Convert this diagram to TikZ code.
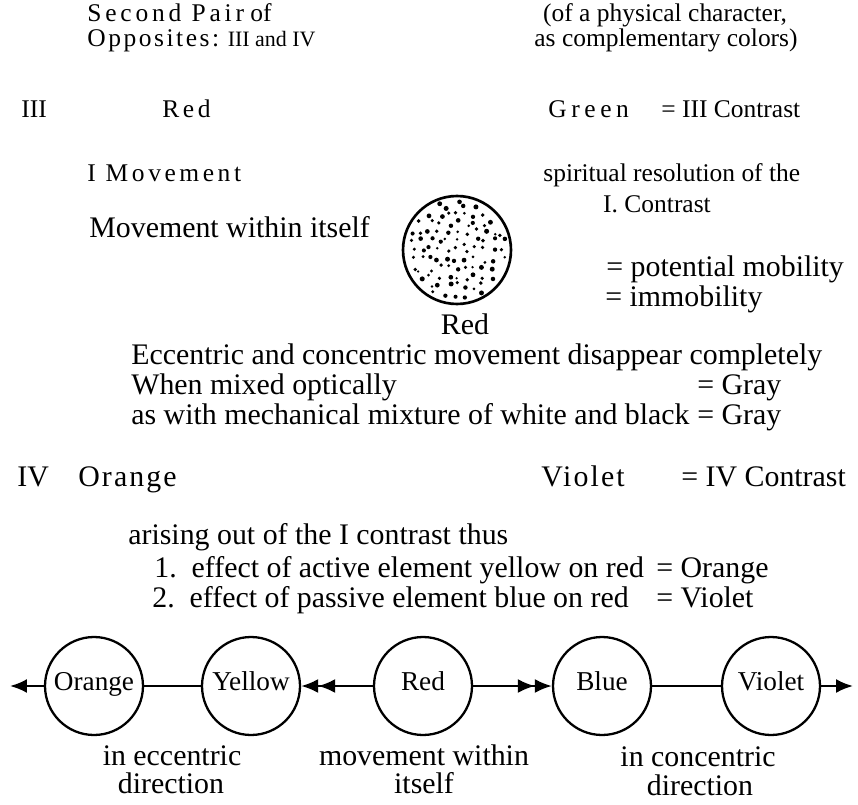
\documentclass[tikz,border=0pt]{standalone}
\usepackage{fontspec}
\setmainfont{Liberation Serif}
\usetikzlibrary{arrows.meta}
\newcommand{\spaced}[2][16]{{\addfontfeature{LetterSpace=#1}#2}}

\begin{document}
\begin{tikzpicture}[x=0.02cm, y=-0.02cm,
    font=\fontsize{17}{20}\selectfont,
    every node/.style={inner sep=0pt, text height=1.5ex, text depth=.3ex},
    txt/.style={anchor=west},
    head/.style={font=\fontsize{14.5}{17}\selectfont},
    colour/.style={circle, draw, line width=1.3pt, minimum size=1.96cm,
      font=\fontsize{15.5}{18}\selectfont},
    link/.style={line width=1.3pt},
    tip/.style={link, -{Latex[length=3.4mm,width=2.8mm]}},
    twotip/.style={link, -{Latex[length=3.4mm,width=2.8mm]Latex[length=3.4mm,width=2.8mm]}}]
  \useasboundingbox (0,0) rectangle (858,804);
  % heading
  \node[txt, head] (title1) at (87,17) {\spaced[15]{Second Pair} of};
  \node[txt, head] (title2) at (87,42) {\spaced[10]{Opposites:} {\fontsize{12.5}{15}\selectfont III and IV}};
  \node[head] (phys1) at (665,17) {(of a physical character,};
  \node[head] (phys2) at (666,42) {as complementary colors)};
  % third contrast
  \node[txt, head] (num3) at (21,113) {III};
  \node[txt, head] (red3) at (162,113) {\spaced[14]{Red}};
  \node[txt, head] (green3) at (548,113) {\spaced[18]{Green}};
  \node[txt, head] (con3) at (661,113) {= III Contrast};
  \node[txt, head] (move1) at (87,177) {\spaced[14]{I Movement}};
  \node[txt, head] (spirit) at (543,177) {spiritual resolution of the};
  \node[head] (icon) at (657,208) {I. Contrast};
  \node[txt] (within) at (89,233) {Movement within itself};
  \node[circle, draw, line width=1.5pt, minimum size=2.16cm] (redball) at (457,250) {};
  % stipple: jittered grid inside the disc
  \pgfmathsetseed{5}
  \foreach \gx in {-45,-36,...,45} {
    \foreach \gy in {-45,-36,...,45} {
      \pgfmathsetmacro{\px}{\gx+7*(rnd-0.5)}
      \pgfmathsetmacro{\py}{\gy+7*(rnd-0.5)}
      \pgfmathsetmacro{\ss}{0.75+0.7*rnd}
      \pgfmathparse{(\px*\px+\py*\py<2450) ? 1 : 0}
      \ifnum\pgfmathresult=1
        \fill (redball.center) ++(\px,\py) circle (\ss pt);
      \fi
    }
  }
  \node[txt] (potential) at (606,272) {= potential mobility};
  \node[txt] (immob) at (605,302) {= immobility};
  \node (redlab) at (465,330) {Red};
  \node[txt] (ecc) at (131,360) {Eccentric and concentric movement disappear completely};
  \node[txt] (mixed) at (131,390) {When mixed optically};
  \node[txt] (gray1) at (697,390) {= Gray};
  \node[txt] (mech) at (131,420) {as with mechanical mixture of white and black};
  \node[txt] (gray2) at (697,420) {= Gray};
  % fourth contrast
  \node[txt] (num4) at (17,482) {IV};
  \node[txt] (orange4) at (78,482) {\spaced[7]{Orange}};
  \node[txt] (violet4) at (541,482) {\spaced[7]{Violet}};
  \node[txt] (con4) at (681,482) {= IV Contrast};
  \node[txt] (arise) at (128,540) {arising out of the I contrast thus};
  \node[txt] (eff1) at (154,573) {1.\ \ effect of active element yellow on red};
  \node[txt] (res1) at (656,573) {= Orange};
  \node[txt] (eff2) at (152,603) {2.\ \ effect of passive element blue on red};
  \node[txt] (res2) at (656,603) {= Violet};
  % row of colours
  \node[colour] (orng) at (94,686) {Orange};
  \node[colour] (yell) at (251,686) {Yellow};
  \node[colour] (rd) at (423,686) {Red};
  \node[colour] (blu) at (602,686) {Blue};
  \node[colour] (vio) at (771,686) {Violet};
  \coordinate (lefttip) at (10,686);
  \coordinate (righttip) at (853,686);
  \draw[tip] (orng) -- (lefttip);
  \draw[link] (orng) -- (yell);
  \draw[twotip] (rd) -- (yell);
  \draw[twotip] (rd) -- (blu);
  \draw[link] (blu) -- (vio);
  \draw[tip] (vio) -- (righttip);
  \node (eccA) at (172,761) {in eccentric};
  \node (eccB) at (171,789) {direction};
  \node (selfA) at (424,761) {movement within};
  \node (selfB) at (424,789) {itself};
  \node (concA) at (698,762) {in concentric};
  \node (concB) at (700,791) {direction};
\end{tikzpicture}
\end{document}
